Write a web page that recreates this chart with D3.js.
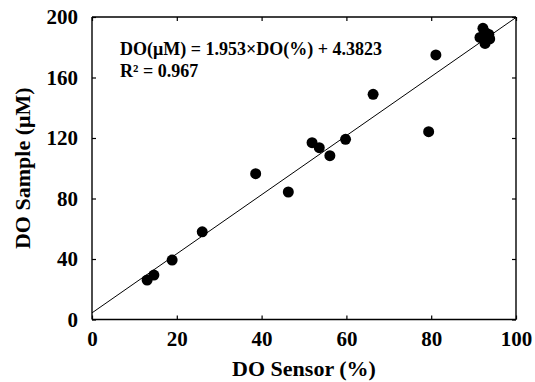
<!DOCTYPE html>
<html>
<head>
<meta charset="utf-8">
<script src="https://cdn.jsdelivr.net/npm/d3@7"></script>
<style>
  html, body { margin: 0; padding: 0; background: #fff; }
  svg { display: block; }
  text { font-family: "Liberation Serif", "Times New Roman", serif; font-weight: bold; fill: #000; }
</style>
</head>
<body>
<svg id="chart" width="535" height="382"></svg>
<script>
// ---- data ----
const sensorPct = [13.0, 14.6, 18.9, 26.0, 38.6, 46.3, 51.9, 53.6, 56.1, 59.8, 66.3, 79.4, 81.1,
                   91.5, 92.2, 93.6, 92.7, 93.8, 92.9];
const sampleUM  = [26.1, 29.4, 39.3, 58.0, 96.4, 84.3, 116.9, 113.6, 108.3, 119.1, 148.9, 124.2, 174.9,
                   186.5, 192.5, 188.5, 182.5, 185.5, 189.5];
const fitSlope = 1.953;
const fitIntercept = 4.3823;
const xTicks = [0, 20, 40, 60, 80, 100];
const yTicks = [0, 40, 80, 120, 160, 200];
const eqLabel = "DO(\u03BCM) = 1.953\u00D7DO(%) + 4.3823";
const r2Label = "R\u00B2 = 0.967";
const xTitle = "DO Sensor (%)";
const yTitle = "DO Sample (\u03BCM)";

(function () {
// ---- layout ----
const svg = d3.select("#chart");
const L = 92, R = 516, T = 17, B = 319.5;
const x = d3.scaleLinear().domain([0, 100]).range([L, R]);
const y = d3.scaleLinear().domain([0, 200]).range([B, T]);
const tickLen = 4;

// regression line
const fitX = [0, 100];
svg.append("path")
  .datum(fitX)
  .attr("d", d3.line().x(d => x(d)).y(d => y(fitSlope * d + fitIntercept)))
  .attr("stroke", "#000").attr("stroke-width", 1).attr("fill", "none");

// points
svg.append("g").selectAll("circle")
  .data(sensorPct.map((v, i) => [v, sampleUM[i]]))
  .join("circle")
  .attr("cx", d => x(d[0])).attr("cy", d => y(d[1]))
  .attr("r", 5.5).attr("fill", "#000");

// axes
const gBottom = svg.append("g").attr("transform", `translate(0,${B})`)
  .call(d3.axisBottom(x).tickValues(xTicks).tickSizeInner(-tickLen).tickSizeOuter(0).tickPadding(12));
const gTop = svg.append("g").attr("transform", `translate(0,${T})`)
  .call(d3.axisTop(x).tickValues(xTicks).tickSizeInner(-tickLen).tickSizeOuter(0).tickFormat(""));
const gLeft = svg.append("g").attr("transform", `translate(${L},0)`)
  .call(d3.axisLeft(y).tickValues(yTicks).tickSizeInner(-tickLen).tickSizeOuter(0).tickPadding(14));
const gRight = svg.append("g").attr("transform", `translate(${R},0)`)
  .call(d3.axisRight(y).tickValues(yTicks).tickSizeInner(-tickLen).tickSizeOuter(0).tickFormat(""));

[gBottom, gTop, gLeft, gRight].forEach(g => {
  g.select(".domain").attr("stroke", "#000").attr("stroke-width", 1.4);
  g.selectAll(".tick line").attr("stroke", "#000").attr("stroke-width", 1.2);
  g.selectAll("text").attr("font-size", 21)
    .attr("font-family", "'Liberation Serif', 'Times New Roman', serif")
    .attr("font-weight", "bold").attr("fill", "#000");
});
gBottom.select(".domain").attr("d", `M${L},0H${R}`);
gTop.select(".domain").attr("d", `M${L},0H${R}`);
gLeft.select(".domain").attr("d", `M0,${T}V${B}`);
gRight.select(".domain").attr("d", `M0,${T}V${B}`);

// equation text
svg.append("text").attr("x", 120).attr("y", 55).attr("font-size", 18).text(eqLabel);
svg.append("text").attr("x", 120).attr("y", 77).attr("font-size", 18).text(r2Label);

// axis titles
svg.append("text").attr("x", (L + R) / 2).attr("y", 376).attr("text-anchor", "middle")
  .attr("font-size", 22).text(xTitle);
svg.append("text").attr("transform", `translate(30,${(T + B) / 2}) rotate(-90)`)
  .attr("text-anchor", "middle").attr("font-size", 22).text(yTitle);
})();
</script>
</body>
</html>
